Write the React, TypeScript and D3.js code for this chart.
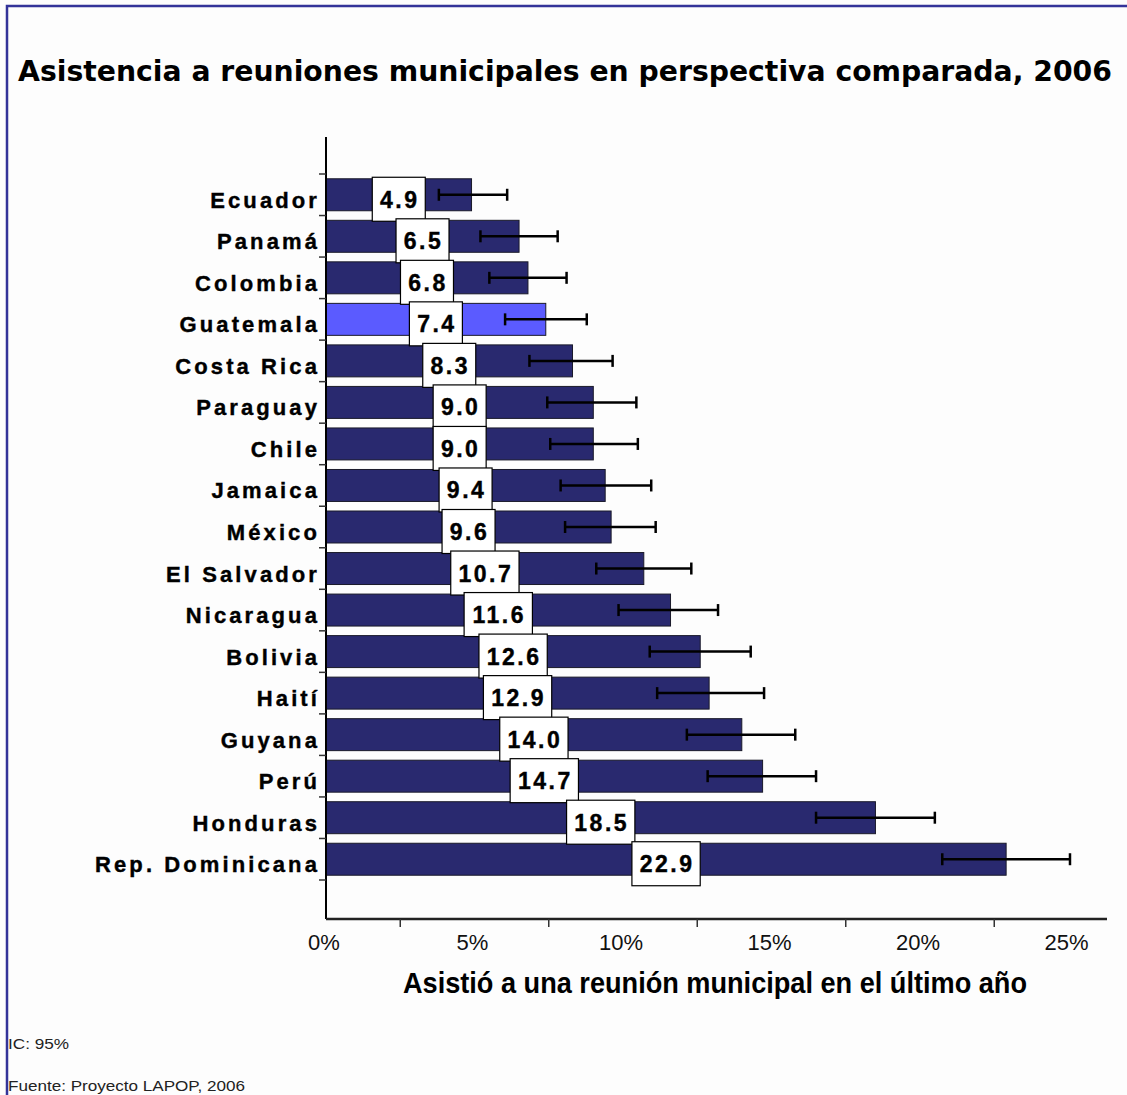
import React, { useLayoutEffect, useRef, useState } from "react";
import * as d3 from "d3";

const countries = [
  "Ecuador", "Panamá", "Colombia", "Guatemala", "Costa Rica", "Paraguay", "Chile",
  "Jamaica", "México", "El Salvador", "Nicaragua", "Bolivia", "Haití", "Guyana",
  "Perú", "Honduras", "Rep. Dominicana",
];
const values = [4.9, 6.5, 6.8, 7.4, 8.3, 9.0, 9.0, 9.4, 9.6, 10.7, 11.6, 12.6, 12.9, 14.0, 14.7, 18.5, 22.9];
const ciLow = [3.8, 5.2, 5.5, 6.03, 6.85, 7.45, 7.55, 7.9, 8.05, 9.1, 9.85, 10.9, 11.15, 12.15, 12.85, 16.5, 20.75];
const ciHigh = [6.1, 7.8, 8.1, 8.78, 9.65, 10.45, 10.5, 10.95, 11.1, 12.3, 13.2, 14.3, 14.75, 15.8, 16.5, 20.5, 25.05];
const highlighted = ["Guatemala"];
const xTickValues = [0, 5, 10, 15, 20, 25];
const xMinorTicks = [2.5, 7.5, 12.5, 17.5, 22.5];

const title = "Asistencia a reuniones municipales en perspectiva comparada, 2006";
const xTitle = "Asistió  a una reunión municipal en el último año";
const note1 = "IC: 95%";
const note2 = "Fuente: Proyecto LAPOP, 2006";

export default function App() {
  const titleRef = useRef<SVGTextElement>(null);
  const [titleScale, setTitleScale] = useState(0.88);
  useLayoutEffect(() => {
    if (titleRef.current) {
      const len = titleRef.current.getComputedTextLength();
      if (len > 0) setTitleScale(1094 / len);
    }
  }, []);

  const x = d3.scaleLinear().domain([0, 25]).range([326, 1068.5]);
  const y = d3.scaleBand<string>().domain(countries).range([174, 880]).paddingInner(0.23).paddingOuter(0.115);
  const step = y.step();
  const boundaries = d3.range(countries.length + 1).map((i) => 174 + i * step);
  const axisY = 919;
  const axisX = x(0);
  const bold = "'Liberation Sans', Arial, sans-serif";
  const lblW = (v: number) => {
    const s = v.toFixed(1);
    let w = 0;
    for (const c of s) w += c === "." ? 6.4 : 12.8;
    return w + (s.length - 1) * 2.5 + 16;
  };
  return (
    <svg width={1127} height={1095} style={{ position: "absolute", left: 0, top: 0, background: "#fdfdfd" }}>
      <rect x={0} y={0} width={1127} height={1095} fill="#fdfdfd" />
      <rect x={7} y={6} width={1140} height={1120} fill="none" stroke="#333399" strokeWidth={2.5} />
      <g transform={`translate(18,81) scale(${titleScale},1)`}>
        <text ref={titleRef} x={0} y={0} fontFamily="'DejaVu Sans', sans-serif" fontWeight="bold" fontSize={29}
          fill="#000">{title}</text>
      </g>

      {/* bars */}
      {countries.map((c, i) => (
        <rect key={c} x={x(0)} y={y(c)!} width={x(values[i]) - x(0)} height={y.bandwidth()}
          fill={highlighted.includes(c) ? "#5b5bff" : "#29296f"} stroke="#1a1a2a" strokeWidth={1} />
      ))}
      {/* error bars */}
      {countries.map((c, i) => {
        const cy = y(c)! + y.bandwidth() / 2;
        return (
          <g key={c} stroke="#000" strokeWidth={2.5}>
            <line x1={x(ciLow[i])} x2={x(ciHigh[i])} y1={cy} y2={cy} />
            <line x1={x(ciLow[i])} x2={x(ciLow[i])} y1={cy - 6} y2={cy + 6} />
            <line x1={x(ciHigh[i])} x2={x(ciHigh[i])} y1={cy - 6} y2={cy + 6} />
          </g>
        );
      })}
      {/* value labels */}
      {countries.map((c, i) => {
        const cy = y(c)! + y.bandwidth() / 2 + 4.5;
        const cx = x(values[i] / 2);
        const w = lblW(values[i]);
        return (
          <g key={c}>
            <rect x={cx - w / 2} y={cy - 22} width={w} height={44} fill="#fff" stroke="#000" strokeWidth={1.2} />
            <text x={cx + 1} y={cy + 8.5} textAnchor="middle" fontFamily={bold} fontWeight="900" fontSize={23}
              letterSpacing={2.5} fill="#000" stroke="#000" strokeWidth={0.4}>{values[i].toFixed(1)}</text>
          </g>
        );
      })}
      {/* y axis */}
      <line x1={axisX} x2={axisX} y1={137} y2={axisY} stroke="#000" strokeWidth={2} />
      {boundaries.map((b, i) => (
        <line key={i} x1={axisX - 7} x2={axisX} y1={b} y2={b} stroke="#333" strokeWidth={1.5} />
      ))}
      {countries.map((c) => (
        <text key={c} x={320} y={y(c)! + y.bandwidth() / 2 + 13} textAnchor="end" fontFamily={bold}
          fontWeight="bold" fontSize={22} letterSpacing={3.1} fill="#000" stroke="#000" strokeWidth={0.4}>{c}</text>
      ))}
      {/* x axis */}
      <line x1={axisX} x2={1107} y1={axisY} y2={axisY} stroke="#222" strokeWidth={2.5} />
      {xMinorTicks.map((t) => (
        <line key={t} x1={x(t)} x2={x(t)} y1={axisY} y2={axisY + 8} stroke="#333" strokeWidth={1.5} />
      ))}
      {xTickValues.map((t) => (
        <text key={t} x={x(t) - 2} y={950} textAnchor="middle" fontFamily={bold} fontSize={22} fill="#111">
          {t + "%"}
        </text>
      ))}
      <text x={715} y={993} textAnchor="middle" fontFamily={bold}
        fontWeight="bold" fontSize={29} textLength={624} lengthAdjust="spacingAndGlyphs" fill="#000">{xTitle}</text>
      <text x={8} y={1049} fontFamily={bold} fontSize={15} textLength={61} lengthAdjust="spacingAndGlyphs" fill="#222">{note1}</text>
      <text x={8} y={1091} fontFamily={bold} fontSize={15} textLength={237} lengthAdjust="spacingAndGlyphs" fill="#222">{note2}</text>
    </svg>
  );
}
